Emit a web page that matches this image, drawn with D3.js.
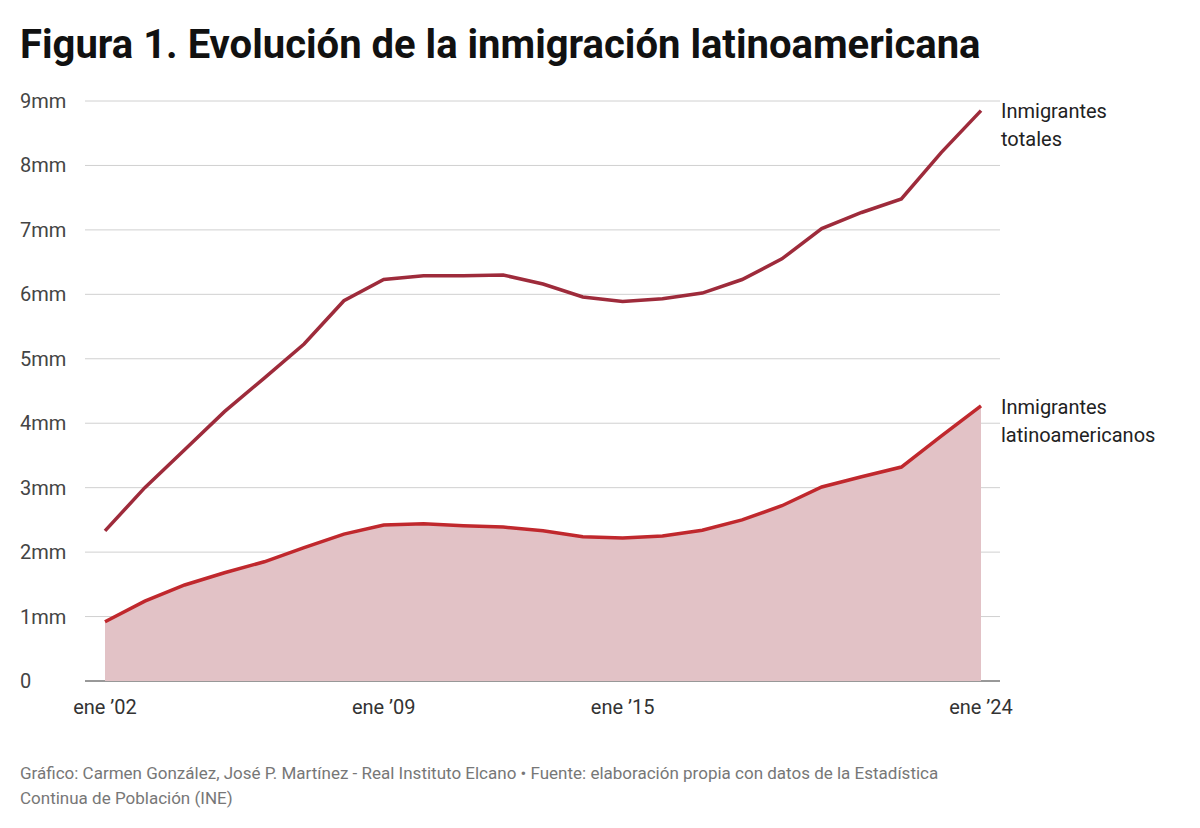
<!DOCTYPE html>
<html><head><meta charset="utf-8">
<script src="https://cdn.jsdelivr.net/npm/d3@7"></script>
<style>body{margin:0;background:#fff;font-family:Roboto,sans-serif}</style>
</head><body>
<svg id="chart" width="1200" height="828"></svg>
<script>
const years = d3.range(2002, 2025);
const totales = [2.33,3.0,3.59,4.18,4.7,5.23,5.9,6.23,6.29,6.29,6.3,6.16,5.96,5.89,5.93,6.02,6.23,6.55,7.02,7.27,7.48,8.2,8.85];
const latinos = [0.92,1.24,1.49,1.68,1.85,2.07,2.28,2.42,2.44,2.41,2.39,2.33,2.24,2.22,2.25,2.34,2.5,2.72,3.01,3.17,3.32,3.8,4.27];
const yTicks = [0,1,2,3,4,5,6,7,8,9];
const xTicks = [2002, 2009, 2015, 2024];

const svg = d3.select("#chart");
const x = d3.scaleLinear().domain([2002, 2024]).range([105, 981]);
const y = d3.scaleLinear().domain([0, 9]).range([681, 101]);

svg.append("text").attr("x", 20).attr("y", 58).attr("font-size", 40).attr("font-weight", 700)
  .attr("fill", "#111").text("Figura 1. Evolución de la inmigración latinoamericana");

// grid
svg.selectAll(".grid").data(yTicks).join("line")
  .attr("x1", 85).attr("x2", 1000).attr("y1", d => y(d)).attr("y2", d => y(d))
  .attr("stroke", d => d === 0 ? "#333" : "#d0d0d0").attr("stroke-width", 1);
svg.selectAll(".yl").data(yTicks).join("text")
  .attr("x", 20).attr("y", d => y(d) + 7).attr("font-size", 20).attr("fill", "#444")
  .text(d => d === 0 ? "0" : d + "mm");
svg.selectAll(".xl").data(xTicks).join("text")
  .attr("x", d => x(d)).attr("y", 714).attr("font-size", 20).attr("fill", "#333")
  .attr("text-anchor", "middle").text(d => "ene ’" + String(d).slice(2));

const area = d3.area().x((d, i) => x(years[i])).y0(y(0)).y1(d => y(d));
svg.append("path").datum(latinos).attr("d", area).attr("fill", "#e2c2c6");

const line = d3.line().x((d, i) => x(years[i])).y(d => y(d));
svg.append("path").datum(totales).attr("d", line).attr("fill", "none")
  .attr("stroke", "#9e2b3b").attr("stroke-width", 3.5);
svg.append("path").datum(latinos).attr("d", line).attr("fill", "none")
  .attr("stroke", "#c0282d").attr("stroke-width", 3.5);

function label(lines, yy) {
  const t = svg.append("text").attr("x", 1001).attr("y", yy).attr("font-size", 20).attr("fill", "#222");
  lines.forEach((s, i) => t.append("tspan").attr("x", 1001).attr("dy", i ? 28 : 0).text(s));
}
label(["Inmigrantes", "totales"], 118);
label(["Inmigrantes", "latinoamericanos"], 414);

const f = svg.append("text").attr("font-size", 17).attr("fill", "#777");
f.append("tspan").attr("x", 20).attr("y", 779)
  .text("Gráfico: Carmen González, José P. Martínez - Real Instituto Elcano • Fuente: elaboración propia con datos de la Estadística");
f.append("tspan").attr("x", 20).attr("y", 804).text("Continua de Población (INE)");
</script>
</body></html>
